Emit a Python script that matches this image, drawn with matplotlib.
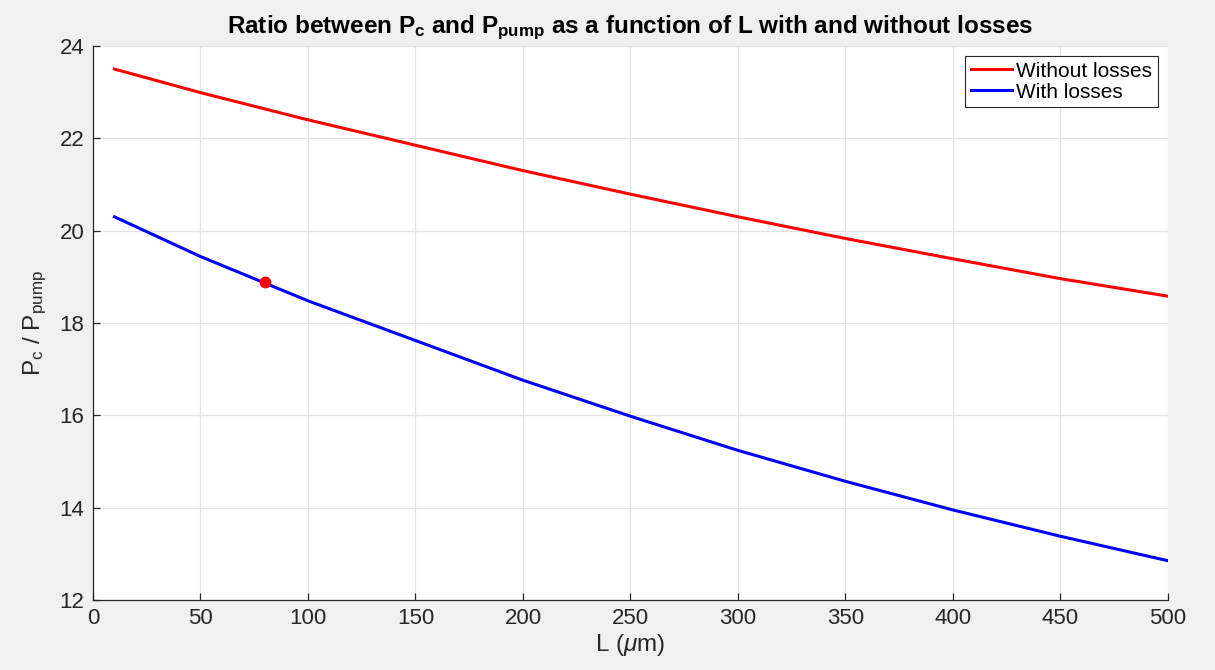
import numpy as np
from matplotlib import pyplot as plt

# cavity length L (um) and power ratio Pc/Ppump
L_um = [10, 50, 100, 150, 200, 250, 300, 350, 400, 450, 500]
ratio_lossless = [23.50, 22.99, 22.40, 21.85, 21.30, 20.79, 20.30, 19.83, 19.39, 18.96, 18.58]
ratio_lossy = [20.30, 19.44, 18.48, 17.62, 16.76, 15.98, 15.24, 14.57, 13.95, 13.38, 12.85]

# operating point marked on the lossy curve
op_L = 80
op_ratio = 18.88

x_ticks = [0, 50, 100, 150, 200, 250, 300, 350, 400, 450, 500]
y_ticks = [12, 14, 16, 18, 20, 22, 24]

plt.rcParams['font.family'] = ['Liberation Sans', 'DejaVu Sans']
plt.rcParams['mathtext.fontset'] = 'custom'
plt.rcParams['mathtext.rm'] = 'Liberation Sans'
plt.rcParams['mathtext.it'] = 'Liberation Sans:italic'
plt.rcParams['mathtext.bf'] = 'Liberation Sans:bold'

fig = plt.figure(figsize=(12.15, 6.7), dpi=100, facecolor='#f0f0f0')
ax = fig.add_axes([0.0765, 0.1045, 0.8848, 0.8269])
ax.set_facecolor('white')

ax.plot(L_um, ratio_lossless, color='#ff0000', lw=2.2, label='Without losses')
ax.plot(L_um, ratio_lossy, color='#0000ff', lw=2.2, label='With losses')
ax.plot(op_L, op_ratio, 'o', color='#ff0000', ms=7.5, zorder=5)

ax.set_xlim(0, 500)
ax.set_ylim(12, 24)
ax.set_xticks(x_ticks)
ax.set_yticks(y_ticks)
ax.grid(True, color='#e3e3e3', lw=0.9)
ax.set_axisbelow(True)

for s in ['top', 'right']:
    ax.spines[s].set_visible(False)
for s in ['left', 'bottom']:
    ax.spines[s].set_color('#262626')
    ax.spines[s].set_linewidth(0.9)
ax.tick_params(direction='in', length=5, width=0.9, colors='#262626',
               labelsize=16, pad=6)

ax.set_xlabel(r'L ($\mu$m)', fontsize=17.5, color='#262626', labelpad=2)
ax.set_ylabel(r'P$_\mathrm{c}$ / P$_\mathrm{pump}$', fontsize=17.5, color='#262626', labelpad=8)
ax.set_title(r'Ratio between P$_\mathbf{c}$ and P$_\mathbf{pump}$ as a function of L with and without losses',
             fontsize=17.5, fontweight='bold', color='black', pad=9)

leg = ax.legend(loc='upper right', fontsize=15, fancybox=False, framealpha=1,
                edgecolor='#262626', handlelength=2.0, handletextpad=0.2,
                borderpad=0.25, labelspacing=0.1, borderaxespad=0.5)
leg.get_frame().set_linewidth(0.8)

fig.savefig('out.png', dpi=100, facecolor=fig.get_facecolor())
